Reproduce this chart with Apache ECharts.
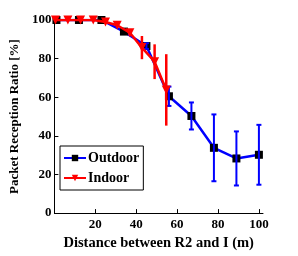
<!DOCTYPE html>
<html>
<head>
<meta charset="utf-8">
<script src="https://cdn.jsdelivr.net/npm/echarts@6/dist/echarts.min.js"></script>
<style>
html,body{margin:0;padding:0;background:#fff;}
#c{width:298px;height:256px;}
</style>
</head>
<body>
<div id="c"></div>
<script>
var outdoorX = [1, 12, 23, 34, 45, 56, 67, 78, 89, 100];
var outdoorY = [100, 100, 100, 94, 86.5, 60.5, 50.3, 33.8, 28.3, 30.2];
var outdoorErr = [0, 0, 0, 0, 1.5, 5, 7, 17.3, 14, 15.5];

var indoorX = [0.5, 6.6, 12.8, 19, 25, 30.7, 36.9, 42.8, 49, 54.7];
var indoorY = [100, 100, 100, 100, 99, 97.3, 93.4, 85.7, 78.4, 63.8];
var indoorErr = [0, 0, 0, 0, 0, 0.5, 1.5, 6, 9, 18.5];

var xTicks = [20, 40, 60, 80, 100];
var yTicks = [0, 20, 40, 60, 80, 100];

var FONT = '"Liberation Serif", "Times New Roman", serif';

function pairs(xs, ys) { return xs.map(function (x, i) { return [x, ys[i]]; }); }
function errData(xs, ys, es) {
  var out = [];
  for (var i = 0; i < xs.length; i++) {
    if (es[i] > 0) out.push([xs[i], ys[i] - es[i], ys[i] + es[i]]);
  }
  return out;
}
function errRender(color, capHalf, width) {
  return function (params, api) {
    var x = api.value(0), lo = api.value(1), hi = api.value(2);
    var p1 = api.coord([x, hi]), p2 = api.coord([x, lo]);
    var st = { stroke: color, lineWidth: width };
    var ch = [{ type: 'line', shape: { x1: p1[0], y1: p1[1], x2: p2[0], y2: p2[1] }, style: st }];
    if (capHalf > 0) {
      ch.push({ type: 'line', shape: { x1: p1[0] - capHalf, y1: p1[1], x2: p1[0] + capHalf, y2: p1[1] }, style: st });
      ch.push({ type: 'line', shape: { x1: p2[0] - capHalf, y1: p2[1], x2: p2[0] + capHalf, y2: p2[1] }, style: st });
    }
    return { type: 'group', children: ch };
  };
}

var chart = echarts.init(document.getElementById('c'), null, { renderer: 'canvas' });
chart.setOption({
  animation: false,
  backgroundColor: '#fff',
  grid: { left: 44, right: 35, top: 20, bottom: 38 },
  legend: {
    orient: 'vertical',
    left: 60, top: 146,
    width: 82,
    padding: [5, 4, 5, 3],
    itemGap: 6,
    itemWidth: 22, itemHeight: 8,
    borderColor: '#000', borderWidth: 1,
    backgroundColor: '#fff',
    textStyle: { fontFamily: FONT, fontWeight: 'bold', fontSize: 14, color: '#000', padding: [0, 0, 0, -3] },
    data: ['Outdoor', 'Indoor']
  },
  xAxis: {
    type: 'value', min: 0, max: 102, interval: 20,
    name: 'Distance between R2 and I (m)',
    nameLocation: 'middle', nameGap: 22,
    nameTextStyle: { fontFamily: FONT, fontWeight: 'bold', fontSize: 14.5, color: '#000' },
    axisLine: { lineStyle: { color: '#000', width: 1 } },
    axisTick: { inside: true, length: 4, lineStyle: { color: '#000' } },
    axisLabel: {
      fontFamily: FONT, fontWeight: 'bold', fontSize: 13, color: '#000', margin: 5,
      showMaxLabel: false,
      formatter: function (v) { return xTicks.indexOf(v) >= 0 ? String(v) : ''; }
    },
    splitLine: { show: false }
  },
  yAxis: {
    type: 'value', min: 0, max: 100, interval: 20,
    name: 'Packet Reception Ratio [%]',
    nameLocation: 'middle', nameGap: 28,
    nameTextStyle: { fontFamily: FONT, fontWeight: 'bold', fontSize: 13, color: '#000' },
    axisLine: { show: true, lineStyle: { color: '#000', width: 1 } },
    axisTick: { show: true, inside: true, length: 4, lineStyle: { color: '#000' } },
    axisLabel: {
      fontFamily: FONT, fontWeight: 'bold', fontSize: 13, color: '#000', margin: 3,
      formatter: function (v) { return yTicks.indexOf(v) >= 0 ? String(v) : ''; }
    },
    splitLine: { show: false }
  },
  series: [
    {
      name: 'Outdoor', type: 'line', data: pairs(outdoorX, outdoorY),
      symbol: 'rect', symbolSize: 8,
      lineStyle: { color: '#0000ff', width: 2.5 },
      itemStyle: { color: '#000' },
      z: 2
    },
    {
      name: 'OutdoorErr', type: 'custom', data: errData(outdoorX, outdoorY, outdoorErr),
      renderItem: errRender('#0000ff', 2.5, 2), z: 3, silent: true
    },
    {
      name: 'Indoor', type: 'line', data: pairs(indoorX, indoorY),
      symbol: 'triangle', symbolRotate: 180, symbolSize: 9,
      lineStyle: { color: '#ff0000', width: 2.5 },
      itemStyle: { color: '#ff0000' },
      z: 4
    },
    {
      name: 'IndoorErr', type: 'custom', data: errData(indoorX, indoorY, indoorErr),
      renderItem: errRender('#ff0000', 0, 2.5), z: 5, silent: true
    }
  ]
});
</script>
</body>
</html>
